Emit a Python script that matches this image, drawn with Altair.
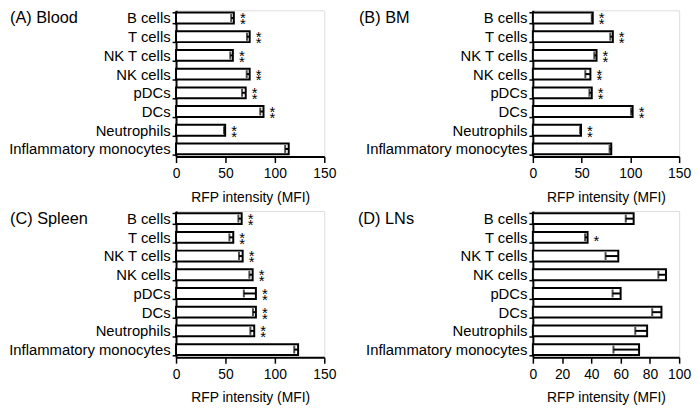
import altair as alt
import pandas as pd

categories = ["B cells", "T cells", "NK T cells", "NK cells", "pDCs", "DCs",
              "Neutrophils", "Inflammatory monocytes"]

# (A) Blood
blood_mean = [58.5, 74.5, 57.5, 74.5, 70.5, 88.5, 49.7, 114.0]
blood_sem = [2.7, 2.7, 2.6, 3.0, 3.7, 3.3, 1.2, 3.6]
blood_sig = ["**", "**", "**", "**", "**", "**", "**", ""]

# (B) BM
bm_mean = [61.4, 82.0, 65.3, 59.0, 60.4, 102.3, 49.4, 80.4]
bm_sem = [1.0, 2.6, 2.3, 5.2, 2.4, 1.6, 1.0, 1.7]
bm_sig = ["**", "**", "**", "**", "**", "**", "**", ""]

# (C) Spleen
spleen_mean = [66.4, 57.9, 67.4, 77.5, 80.8, 80.8, 79.1, 123.5]
spleen_sem = [3.3, 3.9, 3.7, 3.3, 12.2, 3.0, 3.9, 3.9]
spleen_sig = ["**", "**", "**", "**", "**", "**", "**", ""]

# (D) LNs
ln_mean = [68.9, 37.4, 58.4, 91.0, 60.0, 87.9, 78.1, 72.6]
ln_sem = [5.4, 1.7, 8.7, 5.2, 5.5, 6.3, 8.1, 17.5]
ln_sig = ["", "*", "", "", "", "", "", ""]

FONT = "Liberation Sans"


def panel(title, title_x, means, sems, sigs, dmax, step, width, height):
    df = pd.DataFrame({"cell": categories, "mean": means, "sem": sems, "sig": sigs})
    base = alt.Chart(df).transform_calculate(
        lower="datum.mean - datum.sem",
        s_top="length(datum.sig) == 2 ? '*' : ''",
        s_bot="length(datum.sig) == 2 ? '*' : ''",
        s_mid="length(datum.sig) == 1 ? '*' : ''",
    )

    yenc = alt.Y(
        "cell:N", sort=categories, title=None,
        scale=alt.Scale(paddingInner=0.42, paddingOuter=0.12),
        axis=alt.Axis(tickBand="extent", tickSize=4, tickWidth=1.5, tickColor="black",
                      domainColor="black", domainWidth=2, labelFontSize=15,
                      labelColor="black", labelPadding=2, labelLimit=0, labelFont=FONT),
    )

    xaxis = alt.Axis(values=list(range(0, dmax + 1, step)), title="RFP intensity (MFI)",
                     grid=False, tickSize=6, tickWidth=1.5, tickColor="black",
                     domainColor="black", domainWidth=2, labelFontSize=14,
                     labelColor="black", labelPadding=4, labelFont=FONT,
                     titleFontSize=14, titleFontWeight="normal", titleColor="black",
                     titlePadding=10, titleFont=FONT, labelFlush=False)

    def xenc(field):
        return alt.X(field, scale=alt.Scale(domain=[0, dmax], nice=False), axis=xaxis)

    bars = base.mark_bar(fill="white", stroke="black", strokeWidth=2).encode(
        x=xenc("mean:Q"), y=yenc)
    err = base.mark_rule(color="black", strokeWidth=2).encode(
        x=xenc("lower:Q"), x2="mean:Q", y=yenc)
    cap = base.mark_tick(color="black", thickness=2, size=8).encode(
        x=xenc("lower:Q"), y=yenc)

    def star(field, dy):
        return base.mark_text(fontSize=15, dx=9, dy=dy, align="center", baseline="top",
                              color="black", font=FONT).encode(
            x=xenc("mean:Q"), y=yenc, text=f"{field}:N")

    ttl = alt.Chart(pd.DataFrame({"t": [title]})).mark_text(
        align="left", baseline="middle", fontSize=16.5, color="black", font=FONT
    ).encode(x=alt.value(title_x), y=alt.value(8), text="t:N")

    return alt.layer(
        bars, err, cap, star("s_top", -6.5), star("s_bot", -0.5), star("s_mid", -3.5), ttl
    ).properties(width=width, height=height)


H = 148
pa = panel("(A) Blood", -168, blood_mean, blood_sem, blood_sig, 150, 50, 150, H)
pb = panel("(B) BM", -176, bm_mean, bm_sem, bm_sig, 150, 50, 148, H)
pc = panel("(C) Spleen", -168, spleen_mean, spleen_sem, spleen_sig, 150, 50, 150, H)
pd_ = panel("(D) LNs", -177, ln_mean, ln_sem, ln_sig, 100, 20, 148, H)

chart = alt.concat(
    pa, pb, pc, pd_, columns=2, spacing={"row": 55, "column": 211}, bounds="flush"
).properties(
    autosize=alt.AutoSizeParams(type="none"),
    padding={"left": 170, "top": 0, "right": 522, "bottom": 401},
).configure_view(stroke=None).configure(font=FONT)

chart.save("out.html", embed_options={"renderer": "svg", "actions": False})
